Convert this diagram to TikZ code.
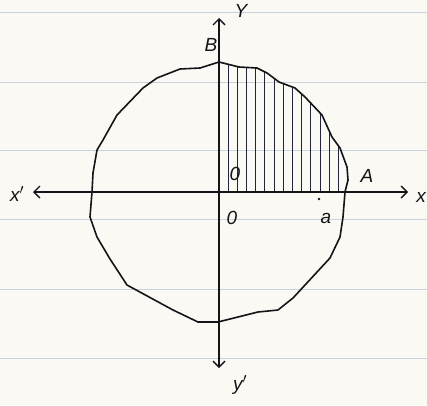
\documentclass[tikz,border=0pt]{standalone}
\usepackage{fontspec}
\setmainfont{Liberation Sans}
\usetikzlibrary{arrows.meta}
\definecolor{paper}{RGB}{250,249,244}
\definecolor{rule}{RGB}{200,210,216}
\definecolor{ink}{RGB}{20,20,25}
\definecolor{hatch}{RGB}{35,35,60}
\begin{document}
\begin{tikzpicture}[x=1pt,y=-1pt,
  ruled/.style={rule,line width=0.9pt},
  axis/.style={ink,line width=1.5pt,-{Straight Barb[length=6pt,width=12pt,line width=1.4pt]}},
  outline/.style={ink,line width=1.6pt,line join=round},
  hatchline/.style={hatch,line width=1pt},
  lbl/.style={ink,font=\fontsize{19}{19}\selectfont\itshape,inner sep=0pt}]
\fill[paper] (0,0) rectangle (427,405);
\useasboundingbox (0,0) rectangle (427,405);
% ruled paper
\foreach \yy in {12,82,150,219,289,358}{\draw[ruled] (0,\yy) -- (427,\yy);}
% shape outline
\def\outlinepath{(219,62) -- (239,67) -- (257,68) -- (267,73) -- (279,82) -- (295,88) -- (305,97) -- (322,115) -- (332,137) -- (340,148) -- (347,167) -- (348,180) -- (345,192) -- (343,217) -- (340,237) -- (330,258) -- (293,298) -- (278,310) -- (258,312) -- (218,322) -- (198,322) -- (173,310) -- (127,285) -- (110,259) -- (97,237) -- (90,217) -- (92,192) -- (93,173) -- (97,150) -- (103,140) -- (117,115) -- (143,88) -- (157,78) -- (180,69) -- (200,68) -- cycle}
% hatching
\begin{scope}
  \clip (219,0) rectangle (427,192);
  \clip \outlinepath;
  \foreach \hx in {228,237.2,...,346}{\draw[hatchline] (\hx,193) -- (\hx,50);}
\end{scope}
\draw[outline] \outlinepath;
% axes
\coordinate (o) at (219,192);
\coordinate (xl) at (33,192);
\coordinate (xr) at (408,192);
\coordinate (yt) at (219,18);
\coordinate (yb) at (219,368);
\draw[axis] (o) -- (xr);
\draw[axis] (o) -- (xl);
\draw[axis] (o) -- (yt);
\draw[axis] (o) -- (yb);
% point a
\fill[ink] (319,199) circle (1.3pt);
% labels
\node[lbl] (lxp) at (17,194) {x$'$};
\node[lbl] (lx) at (421,197) {x};
\node[lbl] (ly) at (241,11) {Y};
\node[lbl] (lB) at (211,45) {B};
\node[lbl] (lyp) at (240,385) {y$'$};
\node[lbl] (lO1) at (235,174) {0};
\node[lbl] (lO2) at (232,218) {0};
\node[lbl] (lA) at (367,176) {A};
\node[lbl] (la) at (326,218) {a};
\end{tikzpicture}
\end{document}
